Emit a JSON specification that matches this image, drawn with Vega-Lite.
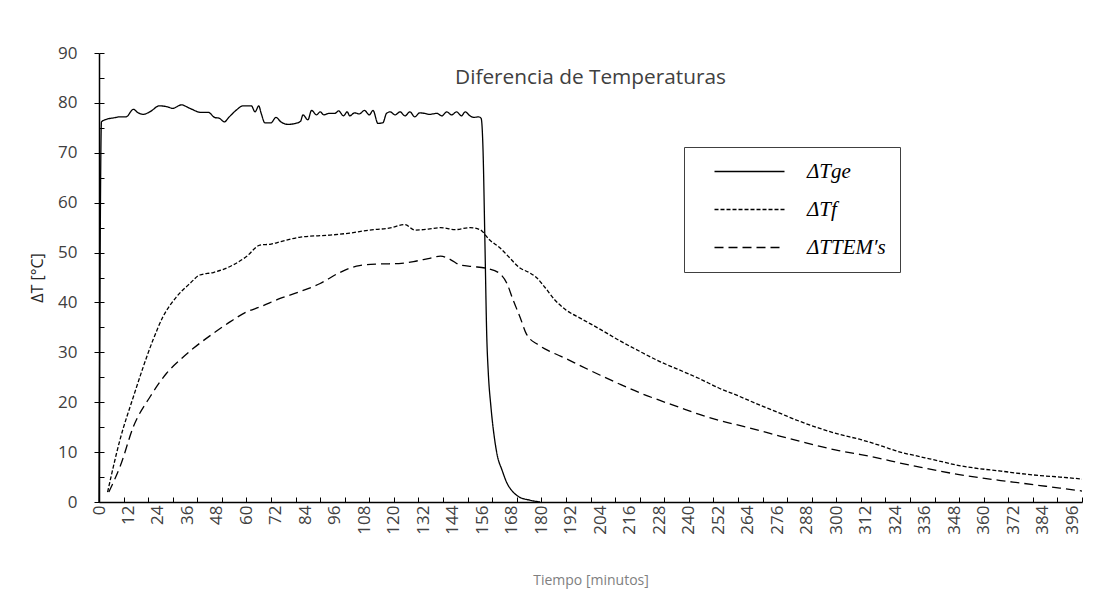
{
  "$schema": "https://vega.github.io/schema/vega-lite/v6.json",
  "width": 983,
  "height": 449,
  "autosize": {"type": "none"},
  "padding": {"left": 99, "top": 53, "right": 13, "bottom": 94},
  "background": "white",
  "config": {"view": {"stroke": null}, "font": "Open Sans"},
  "title": {"text": "Diferencia de Temperaturas", "anchor": "middle", "frame": "group", "offset": -45, "fontSize": 20.8, "fontWeight": "normal", "color": "#404040", "font": "Open Sans"},
  "data": {"values": [
    {"s":"ge","t":0,"v":0},{"s":"ge","t":1,"v":76.2},{"s":"ge","t":3,"v":76.7},{"s":"ge","t":6,"v":77.0},{"s":"ge","t":8.5,"v":77.2},{"s":"ge","t":11,"v":77.2},{"s":"ge","t":14,"v":78.7},{"s":"ge","t":16,"v":78.0},{"s":"ge","t":18,"v":77.7},{"s":"ge","t":21,"v":78.3},{"s":"ge","t":24.5,"v":79.4},{"s":"ge","t":28,"v":79.2},{"s":"ge","t":30,"v":78.9},{"s":"ge","t":33.5,"v":79.6},{"s":"ge","t":37,"v":78.9},{"s":"ge","t":41.5,"v":78.1},{"s":"ge","t":44.5,"v":78.1},{"s":"ge","t":47,"v":77.1},{"s":"ge","t":49,"v":76.9},{"s":"ge","t":51,"v":76.2},{"s":"ge","t":53,"v":77.2},{"s":"ge","t":56,"v":78.6},{"s":"ge","t":58.5,"v":79.4},{"s":"ge","t":62,"v":79.4},{"s":"ge","t":63.5,"v":78.2},{"s":"ge","t":65,"v":79.4},{"s":"ge","t":66,"v":77.9},{"s":"ge","t":67.5,"v":76.0},{"s":"ge","t":70,"v":76.0},{"s":"ge","t":72,"v":77.1},{"s":"ge","t":74,"v":76.2},{"s":"ge","t":77,"v":75.7},{"s":"ge","t":80,"v":75.9},{"s":"ge","t":82,"v":76.3},{"s":"ge","t":83,"v":77.6},{"s":"ge","t":85,"v":76.6},{"s":"ge","t":86.5,"v":78.5},{"s":"ge","t":88.5,"v":77.6},{"s":"ge","t":90,"v":78.2},{"s":"ge","t":91.5,"v":77.6},{"s":"ge","t":93.5,"v":77.9},{"s":"ge","t":96,"v":77.9},{"s":"ge","t":97.5,"v":78.4},{"s":"ge","t":99.5,"v":77.4},{"s":"ge","t":101,"v":78.2},{"s":"ge","t":102,"v":77.4},{"s":"ge","t":104,"v":78.0},{"s":"ge","t":106,"v":77.8},{"s":"ge","t":108,"v":78.5},{"s":"ge","t":110,"v":77.6},{"s":"ge","t":111.5,"v":78.5},{"s":"ge","t":113.5,"v":75.9},{"s":"ge","t":115.5,"v":76.0},{"s":"ge","t":117,"v":77.9},{"s":"ge","t":118.5,"v":78.2},{"s":"ge","t":120.5,"v":77.6},{"s":"ge","t":122.5,"v":78.2},{"s":"ge","t":124.5,"v":77.4},{"s":"ge","t":126.5,"v":78.2},{"s":"ge","t":128.5,"v":77.2},{"s":"ge","t":130.5,"v":78.0},{"s":"ge","t":132.5,"v":77.9},{"s":"ge","t":134.5,"v":77.7},{"s":"ge","t":137.5,"v":77.9},{"s":"ge","t":139.5,"v":77.4},{"s":"ge","t":141.5,"v":78.2},{"s":"ge","t":143.5,"v":77.6},{"s":"ge","t":145.5,"v":78.2},{"s":"ge","t":147.5,"v":77.4},{"s":"ge","t":149,"v":78.2},{"s":"ge","t":151,"v":77.4},{"s":"ge","t":152.5,"v":77.1},{"s":"ge","t":154.5,"v":77.2},{"s":"ge","t":155.5,"v":76.9},{"s":"ge","t":156.3,"v":70},{"s":"ge","t":157,"v":53},{"s":"ge","t":157.8,"v":33},{"s":"ge","t":158.4,"v":26},{"s":"ge","t":159.5,"v":19},{"s":"ge","t":161,"v":12.5},{"s":"ge","t":162,"v":9.5},{"s":"ge","t":164,"v":6.4},{"s":"ge","t":166,"v":3.8},{"s":"ge","t":168.5,"v":2},{"s":"ge","t":171,"v":1},{"s":"ge","t":175,"v":0.4},{"s":"ge","t":179.5,"v":0},
    {"s":"f","t":3.5,"v":2},{"s":"f","t":8.5,"v":12.4},{"s":"f","t":14,"v":21.1},{"s":"f","t":22,"v":32.5},{"s":"f","t":26,"v":37.1},{"s":"f","t":31.5,"v":41.1},{"s":"f","t":37,"v":43.8},{"s":"f","t":41,"v":45.5},{"s":"f","t":46.5,"v":46},{"s":"f","t":54.5,"v":47.5},{"s":"f","t":60,"v":49.2},{"s":"f","t":65.5,"v":51.5},{"s":"f","t":70,"v":51.7},{"s":"f","t":74,"v":52.2},{"s":"f","t":82,"v":53.1},{"s":"f","t":94,"v":53.5},{"s":"f","t":102,"v":53.9},{"s":"f","t":110,"v":54.5},{"s":"f","t":118,"v":54.9},{"s":"f","t":124.5,"v":55.6},{"s":"f","t":128.5,"v":54.5},{"s":"f","t":134,"v":54.7},{"s":"f","t":139,"v":55},{"s":"f","t":145,"v":54.6},{"s":"f","t":151,"v":55},{"s":"f","t":155,"v":54.6},{"s":"f","t":159,"v":52.5},{"s":"f","t":163,"v":51},{"s":"f","t":167,"v":49},{"s":"f","t":171,"v":47},{"s":"f","t":175,"v":46},{"s":"f","t":178,"v":45},{"s":"f","t":181.5,"v":43},{"s":"f","t":185.5,"v":40.5},{"s":"f","t":190,"v":38.5},{"s":"f","t":196,"v":36.8},{"s":"f","t":204,"v":34.6},{"s":"f","t":212,"v":32.3},{"s":"f","t":220,"v":30.2},{"s":"f","t":228,"v":28.2},{"s":"f","t":236,"v":26.5},{"s":"f","t":244,"v":24.8},{"s":"f","t":252,"v":22.9},{"s":"f","t":260,"v":21.3},{"s":"f","t":269,"v":19.4},{"s":"f","t":277,"v":17.8},{"s":"f","t":285,"v":16.2},{"s":"f","t":293,"v":14.8},{"s":"f","t":301,"v":13.6},{"s":"f","t":310,"v":12.5},{"s":"f","t":318,"v":11.3},{"s":"f","t":326,"v":10},{"s":"f","t":334,"v":9.1},{"s":"f","t":342,"v":8.2},{"s":"f","t":350,"v":7.3},{"s":"f","t":358,"v":6.7},{"s":"f","t":367,"v":6.2},{"s":"f","t":375,"v":5.7},{"s":"f","t":383,"v":5.3},{"s":"f","t":391,"v":5},{"s":"f","t":400,"v":4.6},
    {"s":"TEM","t":4,"v":2},{"s":"TEM","t":8.8,"v":7.4},{"s":"TEM","t":14,"v":15.1},{"s":"TEM","t":20.8,"v":21.1},{"s":"TEM","t":27.5,"v":25.8},{"s":"TEM","t":33,"v":28.5},{"s":"TEM","t":38.4,"v":30.8},{"s":"TEM","t":46.5,"v":33.8},{"s":"TEM","t":53.3,"v":36.1},{"s":"TEM","t":60,"v":38.1},{"s":"TEM","t":65.5,"v":39.1},{"s":"TEM","t":73.7,"v":40.8},{"s":"TEM","t":82,"v":42.2},{"s":"TEM","t":90,"v":43.8},{"s":"TEM","t":98,"v":46},{"s":"TEM","t":106,"v":47.4},{"s":"TEM","t":114,"v":47.7},{"s":"TEM","t":122,"v":47.8},{"s":"TEM","t":128,"v":48.2},{"s":"TEM","t":134,"v":48.8},{"s":"TEM","t":139,"v":49.3},{"s":"TEM","t":143,"v":48.6},{"s":"TEM","t":147,"v":47.5},{"s":"TEM","t":152,"v":47.2},{"s":"TEM","t":158,"v":46.8},{"s":"TEM","t":162.5,"v":46},{"s":"TEM","t":166,"v":43.8},{"s":"TEM","t":168.5,"v":40.5},{"s":"TEM","t":171.3,"v":37.1},{"s":"TEM","t":174,"v":33.6},{"s":"TEM","t":178.8,"v":31.5},{"s":"TEM","t":183,"v":30.3},{"s":"TEM","t":188,"v":29.2},{"s":"TEM","t":196,"v":27.3},{"s":"TEM","t":204,"v":25.4},{"s":"TEM","t":212,"v":23.6},{"s":"TEM","t":220,"v":21.9},{"s":"TEM","t":228,"v":20.4},{"s":"TEM","t":236,"v":19},{"s":"TEM","t":244,"v":17.6},{"s":"TEM","t":252,"v":16.4},{"s":"TEM","t":261,"v":15.3},{"s":"TEM","t":269,"v":14.3},{"s":"TEM","t":277,"v":13.2},{"s":"TEM","t":285,"v":12.2},{"s":"TEM","t":293,"v":11.2},{"s":"TEM","t":301,"v":10.3},{"s":"TEM","t":310,"v":9.5},{"s":"TEM","t":318,"v":8.7},{"s":"TEM","t":326,"v":7.8},{"s":"TEM","t":334,"v":7},{"s":"TEM","t":342,"v":6.2},{"s":"TEM","t":350,"v":5.5},{"s":"TEM","t":358,"v":4.9},{"s":"TEM","t":367,"v":4.3},{"s":"TEM","t":375,"v":3.8},{"s":"TEM","t":383,"v":3.3},{"s":"TEM","t":391,"v":2.8},{"s":"TEM","t":400,"v":2.2}
  ]},
  "encoding": {
    "x": {
      "field": "t", "type": "quantitative",
      "scale": {"domain": [0, 400], "nice": false, "zero": false},
      "axis": {
        "values": [0,10,12,20,24,30,36,40,48,50,60,70,72,80,84,90,96,100,108,110,120,130,132,140,144,150,156,160,168,170,180,190,192,200,204,210,216,220,228,230,240,250,252,260,264,270,276,280,288,290,300,310,312,320,324,330,336,340,348,350,360,370,372,380,384,390,396,400],
        "format": "d",
        "labelExpr": "datum.value % 12 === 0 ? datum.label : ''",
        "labelAngle": -90, "labelOverlap": false, "labelFlush": false, "labelBound": false,
        "labelFontSize": 17, "labelColor": "#404040", "labelPadding": 8,
        "tickSize": -5, "tickColor": "black", "tickWidth": 1,
        "tickOpacity": {"condition": {"test": "datum.value % 10 === 0", "value": 1}, "value": 0},
        "domainColor": "black", "domainWidth": 1.5, "grid": false,
        "title": "Tiempo [minutos]", "titleColor": "#808080", "titleFontSize": 14, "titleFontWeight": "normal", "titlePadding": 39
      }
    },
    "strokeDash": {
      "field": "s", "type": "nominal",
      "scale": {"domain": ["ge", "f", "TEM"], "range": [[1, 0], [4, 2], [9, 5]]},
      "legend": {
        "title": null, "orient": "none", "legendX": 585, "legendY": 94,
        "padding": 14, "strokeColor": "#404040", "fillColor": "white",
        "symbolType": "M-7,0H7", "symbolSize": 100, "symbolStrokeWidth": 1.3, "symbolStrokeColor": "black",
        "symbolOffset": 41, "labelOffset": 47, "rowPadding": 16,
        "labelFont": "Liberation Serif", "labelFontStyle": "italic", "labelFontSize": 21, "labelColor": "black",
        "labelExpr": "datum.value === 'ge' ? 'ΔTge' : datum.value === 'f' ? 'ΔTf' : 'ΔTTEM′s\u00a0\u00a0\u00a0\u00a0'"
      }
    }
  },
  "layer": [
    {
      "transform": [{"filter": "datum.s === 'ge'"}],
      "mark": {"type": "line", "color": "black", "strokeWidth": 1.3, "interpolate": "monotone"},
      "encoding": {
        "y": {
          "field": "v", "type": "quantitative",
          "scale": {"domain": [0, 90], "nice": false},
          "axis": {
            "orient": "left", "values": [0,5,10,15,20,25,30,35,40,45,50,55,60,65,70,75,80,85,90],
            "labels": false, "title": null, "tickSize": -5, "tickColor": "black", "tickWidth": 1,
            "domainColor": "black", "domainWidth": 1.5, "grid": false
          }
        }
      }
    },
    {
      "transform": [{"filter": "datum.s !== 'ge'"}],
      "mark": {"type": "line", "color": "black", "strokeWidth": 1.3, "interpolate": "monotone"},
      "encoding": {
        "y": {
          "field": "v", "type": "quantitative",
          "scale": {"domain": [0, 90], "nice": false},
          "axis": {
            "orient": "left", "values": [0,10,20,30,40,50,60,70,80,90],
            "domain": false, "tickSize": 5, "tickColor": "black", "tickWidth": 1,
            "labelFontSize": 17, "labelColor": "#404040", "labelPadding": 17,
            "grid": false,
            "title": "ΔT [°C]", "titleColor": "#262626", "titleFontSize": 16, "titleFontWeight": "normal", "titlePadding": 12
          }
        }
      }
    }
  ],
  "resolve": {"axis": {"y": "independent"}}
}
